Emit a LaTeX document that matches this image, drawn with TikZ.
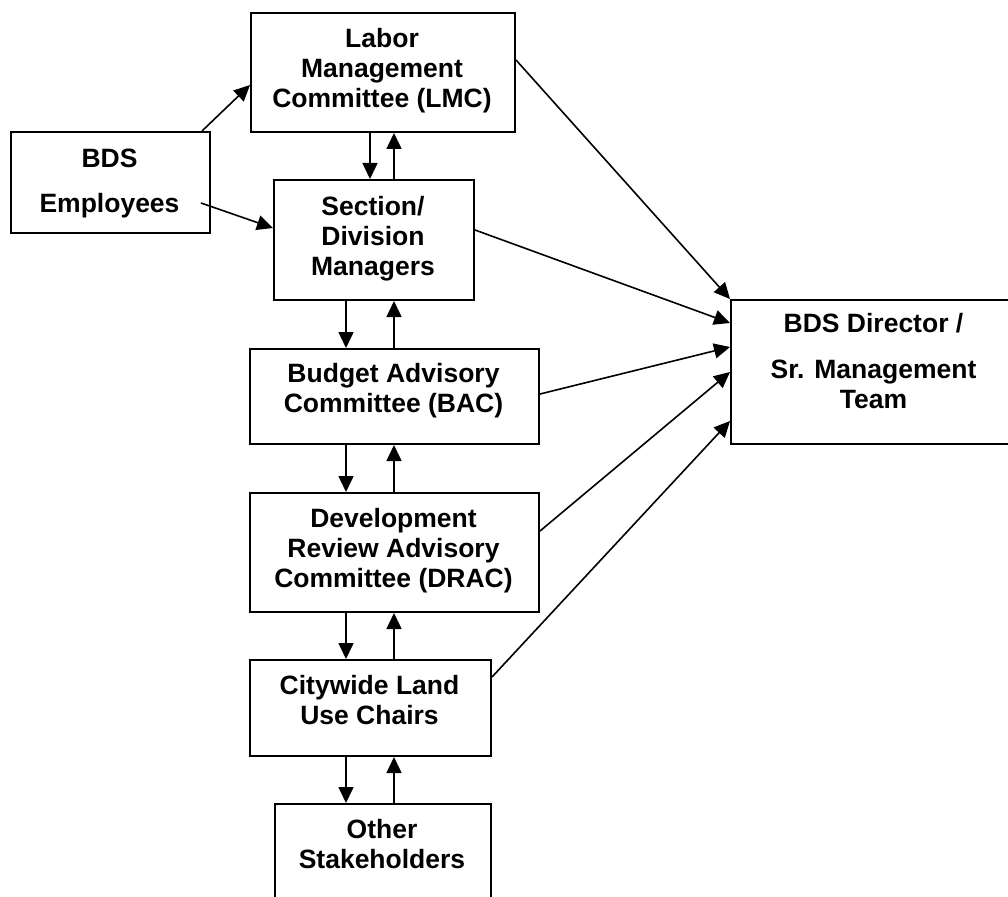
\documentclass[tikz,border=0pt]{standalone}
\usepackage{fontspec}
\setmainfont{Liberation Sans}
\usetikzlibrary{arrows.meta}
\begin{document}
\begin{tikzpicture}[x=1pt,y=-1pt,
  box/.style={draw, line width=2pt, rectangle, anchor=north west, inner sep=0pt},
  lbl/.style={align=center, anchor=base, font=\fontsize{26.5}{30}\selectfont\bfseries, inner sep=0pt},
  arr/.style={line width=1.6pt, -{Triangle[length=16pt,width=15pt]}}]
\useasboundingbox (0,0) rectangle (1008,896);
% boxes
\node[box, minimum width=264pt, minimum height=119.3pt] (lmc) at (250,11.7) {};
\node[box, minimum width=199pt, minimum height=101pt] (emp) at (10,131) {};
\node[box, minimum width=200pt, minimum height=120pt] (sec) at (273,179) {};
\node[box, minimum width=289pt, minimum height=95pt] (bac) at (249,348) {};
\node[box, minimum width=289pt, minimum height=119pt] (drac) at (249,492) {};
\node[box, minimum width=241pt, minimum height=96pt] (city) at (249,659) {};
\node[box, minimum width=216pt, minimum height=110pt] (oth) at (274,803) {};
\node[box, minimum width=287pt, minimum height=144pt] (dir) at (730,299) {};
% labels (anchor base = baseline of last line)
\node[lbl] (tlmc) at (382,107.3) {Labor\\Management\\Committee (LMC)};
\node[lbl] (temp) at (109.5,212) {BDS\\[15pt]Employees};
\node[lbl] (tsec) at (373,275) {Section/\\Division\\Managers};
\node[lbl] (tbac) at (393.5,412) {Budget Advisory\\Committee (BAC)};
\node[lbl] (tdrac) at (393.5,587) {Development\\Review Advisory\\Committee (DRAC)};
\node[lbl] (tcity) at (369.5,724) {Citywide Land\\Use Chairs};
\node[lbl] (toth) at (382,868) {Other\\Stakeholders};
\node[lbl] (tdir) at (873.5,408) {BDS Director /\\[16pt]Sr. Management\\Team};
% vertical arrows
\draw[arr] ([xshift=120pt]lmc.south west) -- ([xshift=97pt]sec.north west);
\draw[arr] ([xshift=121pt]sec.north west) -- ([xshift=144pt]lmc.south west);
\draw[arr] ([xshift=73pt]sec.south west) -- ([xshift=97pt]bac.north west);
\draw[arr] ([xshift=145pt]bac.north west) -- ([xshift=121pt]sec.south west);
\draw[arr] ([xshift=97pt]bac.south west) -- ([xshift=97pt]drac.north west);
\draw[arr] ([xshift=145pt]drac.north west) -- ([xshift=145pt]bac.south west);
\draw[arr] ([xshift=97pt]drac.south west) -- ([xshift=97pt]city.north west);
\draw[arr] ([xshift=145pt]city.north west) -- ([xshift=145pt]drac.south west);
\draw[arr] ([xshift=97pt]city.south west) -- ([xshift=72pt]oth.north west);
\draw[arr] ([xshift=120pt]oth.north west) -- ([xshift=145pt]city.south west);
% employees arrows
\draw[arr] ([xshift=192pt]emp.north west) -- ([yshift=-73.3pt]lmc.north west);
\draw[arr] ([xshift=191pt,yshift=-72pt]emp.north west) -- ([yshift=-49pt]sec.north west);
% arrows to director
\draw[arr] ([yshift=-48.3pt]lmc.north east) -- (dir.north west);
\draw[arr] ([yshift=-51pt]sec.north east) -- ([yshift=-24pt]dir.north west);
\draw[arr] ([yshift=-46pt]bac.north east) -- ([yshift=-48pt]dir.north west);
\draw[arr] ([yshift=-39pt]drac.north east) -- ([yshift=-73pt]dir.north west);
\draw[arr] ([yshift=-18pt]city.north east) -- ([yshift=-122pt]dir.north west);
\end{tikzpicture}
\end{document}
